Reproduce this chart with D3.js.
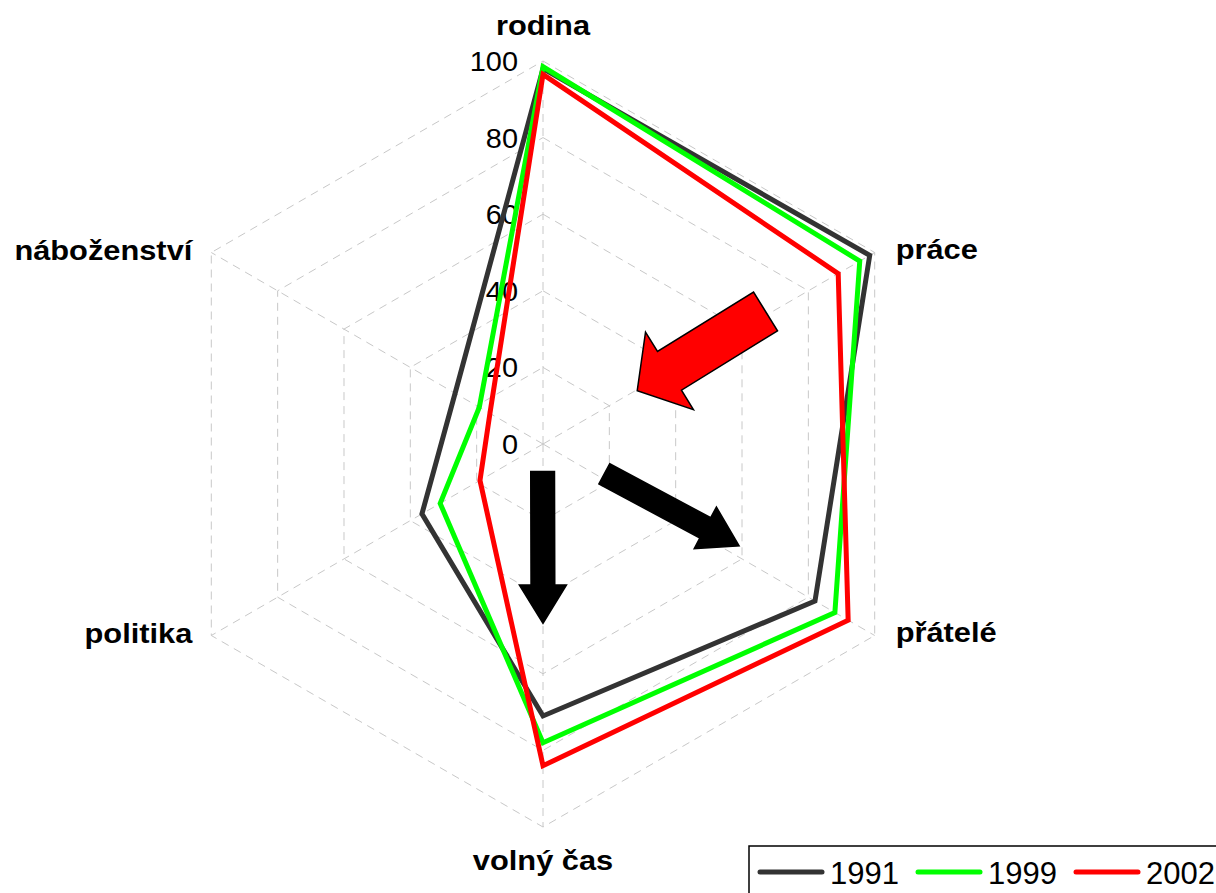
<!DOCTYPE html>
<html>
<head>
<meta charset="utf-8">
<script src="https://cdn.jsdelivr.net/npm/d3@7"></script>
<style>
  html, body { margin: 0; padding: 0; background: #fff; }
  svg { display: block; font-family: "Liberation Sans", Arial, sans-serif; }
</style>
</head>
<body>
<div id="chart"></div>
<script>
(function(){
  // categories (clockwise from the top)
  const categories = ["rodina", "práce", "přátelé", "volný čas", "politika", "náboženství"];
  // series values
  const years = ["1991", "1999", "2002"];
  const v1991 = [98, 98.5, 82, 71, 36.5, 26.5];
  const v1999 = [98.5, 95.5, 88, 78, 31, 19.2];
  const v2002 = [96.5, 89, 92, 84, 19, 16];
  const ticks = [0, 20, 40, 60, 80, 100];
  const colors = ["#333333", "#00ff00", "#ff0000"];
  // annotation arrows, in value units relative to the centre
  const arrowTails = [[58.1, -34.6], [-0.1, 7.2], [16.0, 7.8]];
  const arrowTips = [[24.6, -13.9], [0, 46.8], [51.2, 26.6]];
  const arrowSizes = [[11.9, 23.8, 9.9], [6.2, 12.3, 10], [6.0, 12.3, 10]]; // shaft, head width, head length
  const arrowFills = ["#ff0000", "#000000", "#000000"];

  const width = 1216, height = 893;
  const cx = 543, cy = 444;
  const r = d3.scaleLinear().domain([0, 100]).range([0, 383]);
  const angle = d3.scalePoint().domain(categories).range([0, 2 * Math.PI * 5 / 6]);
  const pt = (cat, v) => [cx + r(v) * Math.sin(angle(cat)), cy - r(v) * Math.cos(angle(cat))];

  const svg = d3.select("#chart").append("svg")
    .attr("width", width)
    .attr("height", height);

  // grid hexagons
  svg.selectAll(".ring")
    .data(ticks.filter(t => t > 0))
    .enter().append("polygon")
    .attr("points", t => categories.map(c => pt(c, t).join(",")).join(" "))
    .attr("fill", "none")
    .attr("stroke", "#c8c8c8")
    .attr("stroke-width", 1)
    .attr("stroke-dasharray", "8,6");

  // spokes
  svg.selectAll(".spoke")
    .data(categories)
    .enter().append("line")
    .attr("x1", cx).attr("y1", cy)
    .attr("x2", c => pt(c, 100)[0])
    .attr("y2", c => pt(c, 100)[1])
    .attr("stroke", "#c8c8c8")
    .attr("stroke-width", 1)
    .attr("stroke-dasharray", "8,6");

  // tick labels (slightly wide, like the original)
  svg.selectAll(".tick")
    .data(ticks)
    .enter().append("text")
    .attr("transform", t => `translate(${cx - 25},${cy - r(t) + 10}) scale(1.07,1)`)
    .attr("text-anchor", "end")
    .attr("font-size", 27)
    .attr("fill", "#000")
    .text(t => t);

  // arrows
  function arrowPath(i) {
    const t = arrowTails[i].map(r), p = arrowTips[i].map(r);
    const [sw, hw, hl] = arrowSizes[i].map(r);
    const dx = p[0] - t[0], dy = p[1] - t[1];
    const len = Math.hypot(dx, dy);
    const ux = dx / len, uy = dy / len, nx = -uy, ny = ux;
    const P = (a, b) => [cx + t[0] + ux * a + nx * b, cy + t[1] + uy * a + ny * b];
    const pts = [
      P(0, -sw / 2), P(len - hl, -sw / 2), P(len - hl, -hw / 2), P(len, 0),
      P(len - hl, hw / 2), P(len - hl, sw / 2), P(0, sw / 2)
    ];
    return "M" + pts.map(q => q.join(",")).join("L") + "Z";
  }
  svg.selectAll(".arrow")
    .data(arrowFills)
    .enter().append("path")
    .attr("d", (d, i) => arrowPath(i))
    .attr("fill", d => d)
    .attr("stroke", "#000")
    .attr("stroke-width", 1.5)
    .attr("stroke-linejoin", "miter");

  // series
  const series = [v1991, v1999, v2002];
  const line = d3.line().curve(d3.curveLinearClosed);
  svg.selectAll(".series")
    .data(series)
    .enter().append("path")
    .attr("d", vals => line(categories.map((c, i) => pt(c, vals[i]))))
    .attr("fill", "none")
    .attr("stroke", (d, i) => colors[i])
    .attr("stroke-width", 5)
    .attr("stroke-linejoin", "miter");

  // category labels
  const labelPos = c => {
    const [x, y] = pt(c, 100);
    const a = angle(c);
    if (Math.abs(a) < 0.01) return { x: x, y: y - 26, anchor: "middle" };
    if (Math.abs(a - Math.PI) < 0.01) return { x: x, y: y + 43, anchor: "middle" };
    if (a < Math.PI) return { x: x + 21, y: y + 6, anchor: "start" };
    return { x: x - 19, y: y + 7, anchor: "end" };
  };
  svg.selectAll(".cat")
    .data(categories)
    .enter().append("text")
    .attr("transform", c => `translate(${labelPos(c).x},${labelPos(c).y}) scale(1.1,1)`)
    .attr("text-anchor", c => labelPos(c).anchor)
    .attr("font-size", 28)
    .attr("font-weight", "bold")
    .attr("fill", "#000")
    .text(c => c);

  // legend (cut off by the right and bottom edges)
  const legend = svg.append("g").attr("transform", "translate(749,846)");
  legend.append("rect")
    .attr("width", 520).attr("height", 70)
    .attr("fill", "#fff")
    .attr("stroke", "#000")
    .attr("stroke-width", 1.5);
  const item = legend.selectAll(".item")
    .data(years)
    .enter().append("g")
    .attr("transform", (d, i) => `translate(${11 + i * 158},26)`);
  item.append("line")
    .attr("x1", 0).attr("x2", 62)
    .attr("stroke", (d, i) => colors[i])
    .attr("stroke-width", 5)
    .attr("stroke-linecap", "round");
  item.append("text")
    .attr("x", 70).attr("y", 12)
    .attr("font-size", 31)
    .attr("fill", "#000")
    .text(d => d);
})();
</script>
</body>
</html>
